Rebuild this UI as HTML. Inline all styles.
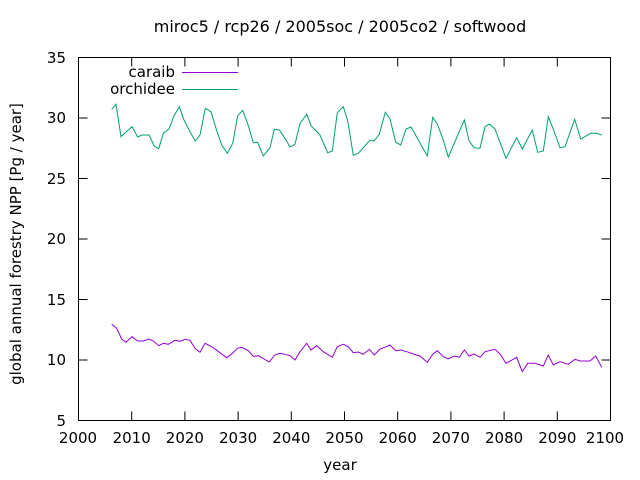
<!DOCTYPE html>
<html><head><meta charset="utf-8"><style>body{margin:0;background:#fff}svg{display:block}text{font-family:"DejaVu Sans",sans-serif;font-size:15px;fill:#000}</style></head>
<body>
<svg width="640" height="480" viewBox="0 0 640 480" xmlns="http://www.w3.org/2000/svg">
<rect width="640" height="480" fill="#fff"/>
<g stroke="#000" stroke-width="1" fill="none">
<rect x="78.5" y="57.5" width="532" height="363"/>
<path d="M78.5 420.5h9M78.5 360h9M78.5 299.5h9M78.5 239h9M78.5 178.5h9M78.5 118h9M78.5 57.5h9
M610.5 420.5h-9M610.5 360h-9M610.5 299.5h-9M610.5 239h-9M610.5 178.5h-9M610.5 118h-9M610.5 57.5h-9
M78.5 420.5v-9M131.7 420.5v-9M184.9 420.5v-9M238.1 420.5v-9M291.3 420.5v-9M344.5 420.5v-9M397.7 420.5v-9M450.9 420.5v-9M504.1 420.5v-9M557.3 420.5v-9M610.5 420.5v-9
M78.5 57.5v9M131.7 57.5v9M184.9 57.5v9M238.1 57.5v9M291.3 57.5v9M344.5 57.5v9M397.7 57.5v9M450.9 57.5v9M504.1 57.5v9M557.3 57.5v9"/>
</g>
<g text-anchor="end">
<text x="66" y="426">5</text><text x="66" y="365">10</text><text x="66" y="305">15</text><text x="66" y="244">20</text><text x="66" y="184">25</text><text x="66" y="123">30</text><text x="66" y="63">35</text>
</g>
<g text-anchor="middle">
<text x="78" y="443">2000</text><text x="131.7" y="443">2010</text><text x="184.9" y="443">2020</text><text x="238.1" y="443">2030</text><text x="291.3" y="443">2040</text><text x="344.5" y="443">2050</text><text x="397.7" y="443">2060</text><text x="450.9" y="443">2070</text><text x="504.1" y="443">2080</text><text x="557.3" y="443">2090</text><text x="605" y="443">2100</text>
<text x="340" y="470">year</text>
<text x="340" y="32" style="font-size:16px">miroc5 / rcp26 / 2005soc / 2005co2 / softwood</text>
<text transform="translate(21,244) rotate(-90)">global annual forestry NPP [Pg / year]</text>
</g>
<text x="175" y="77" text-anchor="end">caraib</text>
<text x="175" y="94" text-anchor="end">orchidee</text>
<path d="M182 72.5h56" stroke="#9400d3"/>
<path d="M182 89.5h56" stroke="#009e73"/>
<polyline fill="none" stroke="#009e73" stroke-width="1" points="111.7,109.3 116,104.3 121,136.7 126,132 132,126.7 137.7,137 141.7,135 149,135 154.3,146 158.7,148.7 163.3,133.3 169,129 174,115.7 179.3,106.7 184,120 190,131.7 195.3,141 200,135 205.3,108.3 211,111.7 216,128.3 221.7,145 227.3,153.3 232.7,143.3 237.7,115.7 242.7,110.3 248.7,126.7 253.3,142.7 257.7,142.3 263.3,156 270,147.7 274.3,129.3 279.3,130 285,138.3 290,147 295,144.3 300,123.3 306.7,114.3 311,125.7 320,135 327.7,152.7 332.3,151 337.3,112.7 343.3,106.7 347.7,120.7 353.3,155.3 358.3,153.3 370,140 374,141 379.3,134.3 385.3,112.3 390,119 395.7,142.3 400.7,145 406,129 411,127 427.3,156 432.7,117.3 437.3,124 442.7,138.3 448.3,157 464.3,120 469,140.7 474,147.7 480,148.3 485,126.7 489.3,124 495,129 506,158.3 516.7,137.7 522.3,149 532.3,130 537.7,152.3 543.3,151 548.3,116.7 554,131 560,147.7 565,146.7 574.7,119.3 580.7,139 590.7,133.3 596.7,133.3 601.7,135"/>
<polyline fill="none" stroke="#9400d3" stroke-width="1" points="111.7,324.3 116.7,328.3 121.7,339 126,342.3 132,336.7 137.7,341 143.3,341 148.7,339 153.3,341 158.7,345.7 163.3,343.3 168.3,344.3 175,340.3 180,341.3 185,339.3 190,340.3 195,348.3 200,352.3 205,343.3 213.3,347.7 226.7,357.7 232,353.7 237.3,348.3 241.7,347.3 248.3,350.7 253.3,356.3 258.3,355.7 269.3,362 274.7,355 280,353.3 285,354.3 290,355.7 295,360 300,351.7 306.7,343.3 311,350 316.7,345.7 323.3,351.7 332.3,357.3 337.3,346.7 343.3,344.3 348.3,346.7 353.3,352.7 358.3,352 363.3,354.3 369.3,349.3 374.3,355 380,349 385,347.3 390,345 395.7,350.7 400.7,350 406.7,351.7 413.3,354 420,356 427.3,362.3 432.7,354.3 437.3,350.7 443.3,356.7 448.3,359 454.3,356 459.3,357.3 464.3,350 469,356 474,354 480,357.3 485,351.7 495,349.3 500,354 506,363.3 516.7,357.3 522.3,371.7 527.7,363.3 535,363.3 543.3,366 548.3,355 553.3,365 560,361.7 568.3,364.3 575,359.3 580,361 590,361 595.7,356 601.7,367.3"/>
</svg>
</body></html>
